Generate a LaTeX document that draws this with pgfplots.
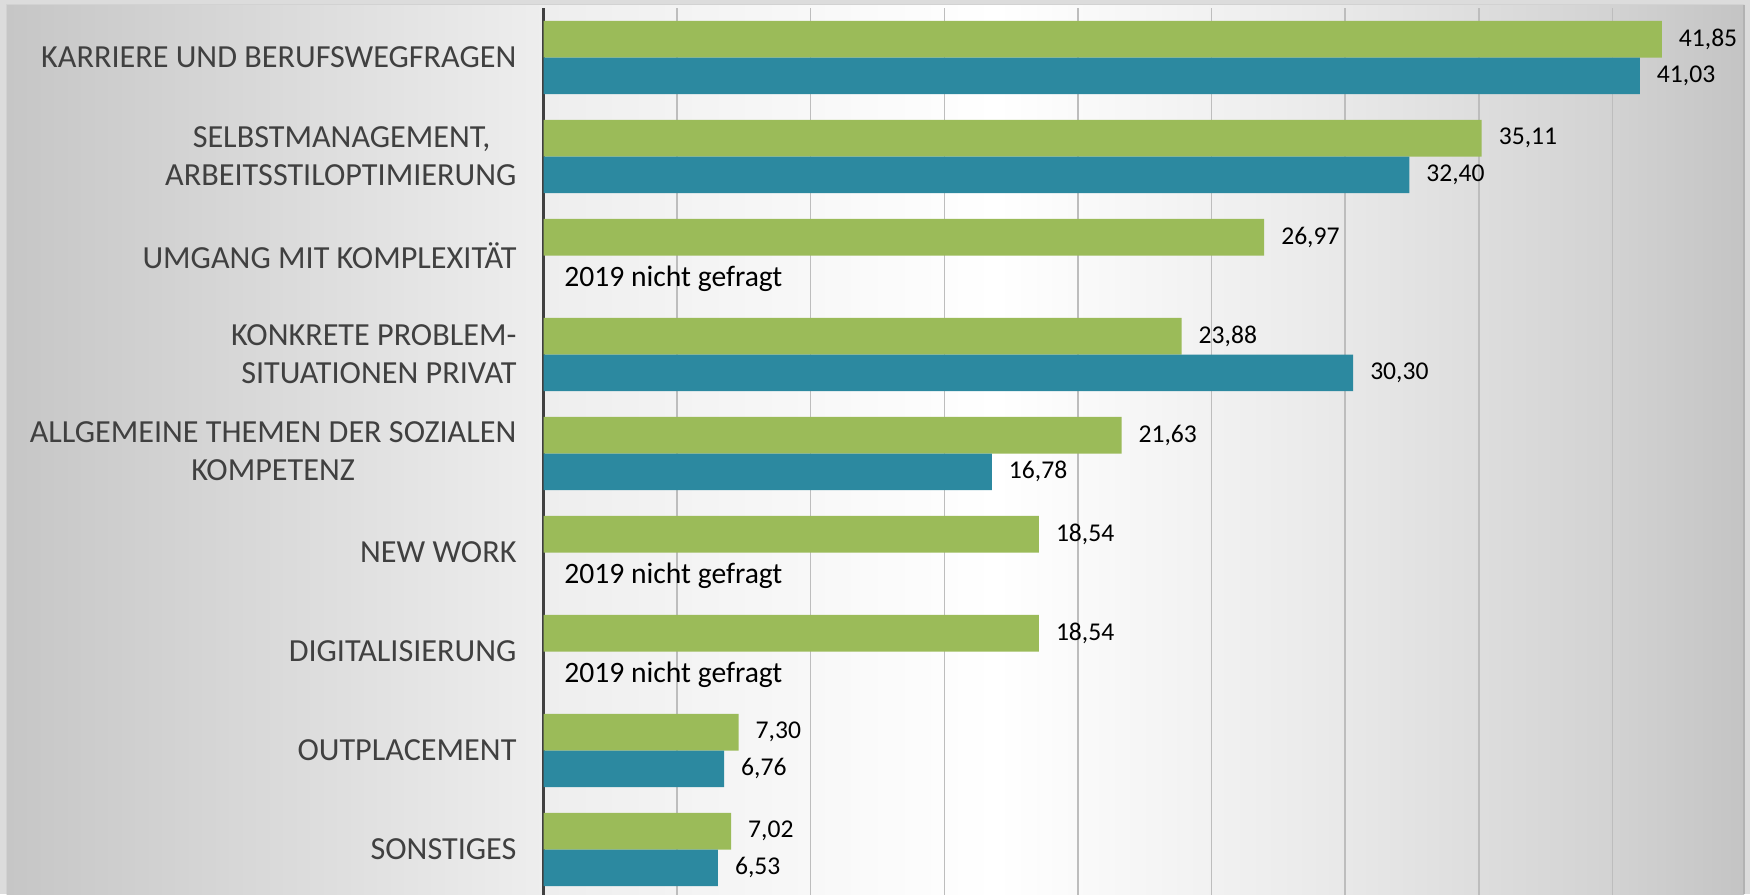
\documentclass[border=0pt]{standalone}
\usepackage{pgfplots}
\pgfplotsset{compat=1.18}
\usepackage{pgfplotstable}
\usepackage{fontspec}
\setmainfont{Carlito}
\definecolor{cgreen}{HTML}{9BBB59}
\definecolor{cblue}{HTML}{2C89A0}
\definecolor{labelgray}{HTML}{404040}
\definecolor{gridc}{HTML}{BDBDBD}
\definecolor{frameGray}{HTML}{DCDCDC}
\definecolor{bgA}{HTML}{C6C6C6}
\definecolor{bgB}{HTML}{EEEEEE}
\definecolor{bgC}{HTML}{EBEBEB}
\definecolor{bgD}{HTML}{D3D3D3}
\definecolor{bgE}{HTML}{C4C4C4}
\pgfdeclarehorizontalshading{bgshade}{100bp}{color(0bp)=(bgA); color(25bp)=(bgA); color(40.5bp)=(bgB); color(53.5bp)=(white); color(62.5bp)=(bgC); color(71bp)=(bgD); color(75bp)=(bgE); color(100bp)=(bgE)}

% category index (0 = top), value
\pgfplotstableread{
y x
-0.1853 41.85
0.8147 35.11
1.8147 26.97
2.8147 23.88
3.8147 21.63
4.8147 18.54
5.8147 18.54
6.8147 7.30
7.8147 7.02
}\greendata
\pgfplotstableread{
y x
0.1853 41.03
1.1853 32.40
3.1853 30.30
4.1853 16.78
7.1853 6.76
8.1853 6.53
}\bluedata

\begin{document}
\begin{tikzpicture}
\useasboundingbox (0,0) rectangle (875pt,447pt);
\begin{scope}
\clip (0,0) rectangle (875pt,447pt);
\fill[frameGray] (0,0) rectangle (875pt,447pt);
\shade[shading=bgshade] (3.35pt,0pt) rectangle (872pt,444.5pt);
\draw[gray!60, line width=0.6pt] (872pt,0) -- (872pt,444.5pt);
\draw[gray!35, line width=0.5pt] (3.35pt,444.5pt) -- (872pt,444.5pt) ;
\draw[gray!35, line width=0.5pt] (3.35pt,0) -- (3.35pt,444.5pt);
\begin{axis}[
  at={(271.75pt,-2.5pt)}, anchor=south west,
  scale only axis, width=601.25pt, height=445.5pt,
  xmin=0, xmax=45, ymin=-0.5, ymax=8.5, y dir=reverse,
  xbar, bar width=0.3707, bar shift=0pt,
  axis lines=left,
  x axis line style={draw=none},
  y axis line style={labelgray, line width=1.5pt, -},
  xtick={5,10,...,40}, xticklabels={},
  xmajorgrids, grid style={gridc, line width=0.75pt},
  major tick length=0pt,
  ytick={0,...,8},
  yticklabels={KARRIERE UND BERUFSWEGFRAGEN,
    {SELBSTMANAGEMENT,\rule{13pt}{0pt}\\ARBEITSSTILOPTIMIERUNG},
    UMGANG MIT KOMPLEXITÄT,
    {KONKRETE PROBLEM-\\SITUATIONEN PRIVAT},
    {\begin{tabular}{@{}c@{}}ALLGEMEINE THEMEN DER SOZIALEN\\KOMPETENZ\end{tabular}},
    NEW WORK, DIGITALISIERUNG, OUTPLACEMENT, SONSTIGES},
  yticklabel style={font=\fontsize{16.1}{19}\selectfont, text=labelgray, align=right, xshift=-10pt},
  nodes near coords,
  nodes near coords style={font=\fontsize{12.8}{15}\selectfont, text=black, anchor=west, xshift=5pt},
  /pgf/number format/.cd, use comma, fixed, fixed zerofill, precision=2, assume math mode=true,
]
\addplot[draw=none, fill=cgreen] table[x=x, y=y] {\greendata};
\addplot[draw=none, fill=cblue] table[x=x, y=y] {\bluedata};
\node[anchor=base west, font=\fontsize{14.8}{17}\selectfont, inner sep=0pt] at (axis cs:0,2.308) [xshift=10.25pt] {2019 nicht gefragt};
\node[anchor=base west, font=\fontsize{14.8}{17}\selectfont, inner sep=0pt] at (axis cs:0,5.308) [xshift=10.25pt] {2019 nicht gefragt};
\node[anchor=base west, font=\fontsize{14.8}{17}\selectfont, inner sep=0pt] at (axis cs:0,6.308) [xshift=10.25pt] {2019 nicht gefragt};
\end{axis}
\end{scope}
\end{tikzpicture}
\end{document}
